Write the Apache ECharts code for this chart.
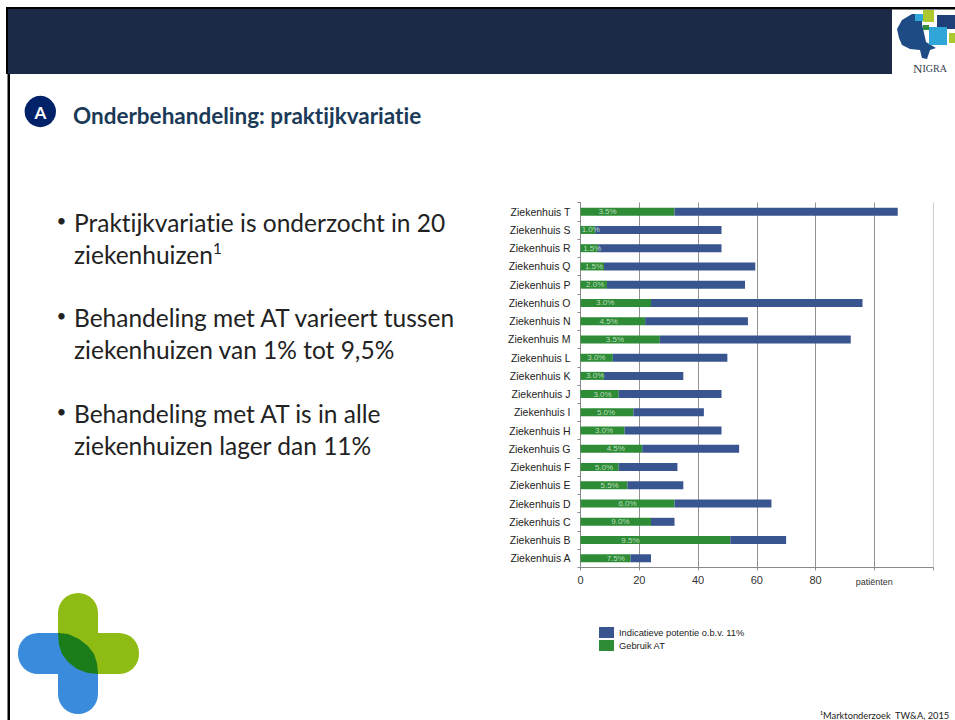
<!DOCTYPE html>
<html><head><meta charset="utf-8">
<style>html,body{margin:0;padding:0;background:#fff}#c{width:955px;height:720px}svg text{font-variant-ligatures:none !important}</style>
<script src="https://cdn.jsdelivr.net/npm/echarts@6/dist/echarts.min.js"></script>
</head><body><div id="c"></div>
<script>
const categories = ['Ziekenhuis A','Ziekenhuis B','Ziekenhuis C','Ziekenhuis D','Ziekenhuis E','Ziekenhuis F','Ziekenhuis G','Ziekenhuis H','Ziekenhuis I','Ziekenhuis J','Ziekenhuis K','Ziekenhuis L','Ziekenhuis M','Ziekenhuis N','Ziekenhuis O','Ziekenhuis P','Ziekenhuis Q','Ziekenhuis R','Ziekenhuis S','Ziekenhuis T'];
const gebruikAT = [17,51,24,32,16,13,21,15,18,13,8,11,27,22,24,9,8,6,5,32];
const potentie = [7,19,8,33,19,20,33,33,24,35,27,39,65,35,72,47,51.5,42,43,76];
const percentages = ['7.5%','9.5%','9.0%','6.0%','5.5%','5.0%','4.5%','3.0%','5.0%','3.0%','3.0%','3.0%','3.5%','4.5%','3.0%','2.0%','1.5%','1.5%','1.0%','3.5%'];
const percentageAt = [12,17,13.6,16,9.9,8,12,8,8.7,7.5,5,5.4,11.7,9.6,8.4,5,4.6,4,3.5,9.2];
const seriesNames = ['Indicatieve potentie o.b.v. 11%','Gebruik AT'];
const title = 'Onderbehandeling: praktijkvariatie';
const bullets = [
  ['Praktijkvariatie is onderzocht in 20','ziekenhuizen'],
  ['Behandeling met AT varieert tussen','ziekenhuizen van 1% tot 9,5%'],
  ['Behandeling met AT is in alle','ziekenhuizen lager dan 11%']
];
const bulletTops = [222, 317, 413];
const footnote = '¹Marktonderzoek  TW&A, 2015';

const txt = (x,y,text,font,fill,extra) => ({type:'text',x,y,silent:true,style:Object.assign({text,font,fill,textVerticalAlign:'middle'},extra||{})});
const rect = (x,y,width,height,fill,r) => ({type:'rect',silent:true,shape:{x,y,width,height,r:r||0},style:{fill}});
const poly = (points,fill) => ({type:'polygon',silent:true,shape:{points},style:{fill}});
const graphics = [
  rect(6,7,949,2.5,'#000'),
  rect(6,7,2.5,67,'#000'),
  rect(7.5,74,2.5,646,'#000'),
  rect(8,9,884,65,'#1c2a47'),
  rect(18,633,80,41,'#3a8bdc',[20,0,0,20]),
  rect(58,633,40,81,'#3a8bdc',[0,0,20,20]),
  rect(58,593,40,81,'#8fbc14',[20,20,0,0]),
  rect(58,633,81,41,'#8fbc14',[0,20,20,0]),
  poly([[58,633],[98,674],[58,674]],'#3a8bdc'),
  poly([[58,633],[68,634],[79,639],[88,646],[94,654],[97,663],[98,674],[88,673],[77,669],[68,662],[62,654],[59,645]],'#1a7d1a'),
  {type:'circle',silent:true,shape:{cx:40.3,cy:111.5,r:15.7},style:{fill:'#012168'}},
  txt(40.3,112,'A','bold 17px Lato','#fff',{textAlign:'center'}),
  txt(73,115,title,'bold 22.5px Lato','#1b3a57'),
  poly([[897,29],[902,20],[912,14],[922,14],[922,24],[926,42],[936,48],[930,50],[927,59],[922,58],[920,50],[910,49],[902,45],[899,38]],'#1f4b85'),
  rect(923,10,11,12,'#a9c92e'),
  rect(937,15,18,14,'#1f3f78'),
  rect(929,27,18,18,'#2fa5d8'),
  rect(949,33,6,10,'#a9c92e'),
  rect(923,25,6,5,'#2f8f3a'),
  rect(915,14,8,7,'#2fa5d8'),
  {type:'text',x:930,y:68,silent:true,style:{text:'{a|N}{b|IGRA}',fill:'#33424f',textAlign:'center',textVerticalAlign:'middle',
    rich:{a:{font:'13px "Liberation Serif"',fill:'#33424f'},b:{font:'10px "Liberation Serif"',fill:'#33424f'}}}},
  txt(820,715,footnote,'9.3px Lato','#222'),
  txt(213,248,'1','15px Lato','#222')
];
bullets.forEach((lines,i)=>{
  const y = bulletTops[i];
  graphics.push(txt(56.5,y-2,'•','17px Lato','#222'));
  lines.forEach((l,j)=>graphics.push(txt(74,y+j*32,l,'24.5px Lato','#222')));
});

const chart = echarts.init(document.getElementById('c'),null,{renderer:'svg'});
chart.setOption({
  animation:false,
  backgroundColor:'#fff',
  legend:{
    orient:'vertical',left:599,top:627,itemWidth:15,itemHeight:11,itemGap:2,icon:'rect',selectedMode:false,
    data:seriesNames,
    textStyle:{fontFamily:'Liberation Sans',fontSize:9.3,color:'#222'},
    padding:0
  },
  grid:{left:580.5,top:202.6,width:352.5,height:364.8,containLabel:false},
  xAxis:{
    type:'value',min:0,max:120,interval:20,
    axisLine:{show:true,lineStyle:{color:'#8a8a8a'}},
    axisTick:{show:true,length:3,lineStyle:{color:'#8a8a8a'}},
    axisLabel:{
      margin:7,fontFamily:'Liberation Sans',fontSize:11,color:'#333',
      formatter:v=>v===100?'{u|patiënten}':(v===120?'':String(v)),
      rich:{u:{fontFamily:'Liberation Sans',fontSize:9,color:'#333',padding:[3,0,0,0]}}
    },
    splitLine:{show:true,lineStyle:{width:1,color:['#929292','#929292','#929292','#929292','#929292','#929292','#cfcfcf']}}
  },
  yAxis:{
    type:'category',data:categories,
    axisLine:{show:true,lineStyle:{color:'#8a8a8a'}},
    axisTick:{show:true,length:3,alignWithLabel:false,lineStyle:{color:'#8a8a8a'}},
    axisLabel:{margin:10,fontFamily:'Liberation Sans',fontSize:10.5,color:'#222',interval:0}
  },
  series:[
    {name:seriesNames[1],type:'bar',stack:'t',barWidth:8,data:gebruikAT,itemStyle:{color:'#2e8b36'}},
    {name:seriesNames[0],type:'bar',stack:'t',barWidth:8,data:potentie,itemStyle:{color:'#38558f'}},
    {name:'labels',type:'scatter',symbolSize:0,z:5,silent:true,
      data:percentageAt.map((x,i)=>({value:[x,i],label:{formatter:percentages[i]}})),
      label:{show:true,position:'inside',fontFamily:'Liberation Sans',fontSize:8,color:'#dff0df'}}
  ],
  graphic:graphics
});
</script></body></html>
